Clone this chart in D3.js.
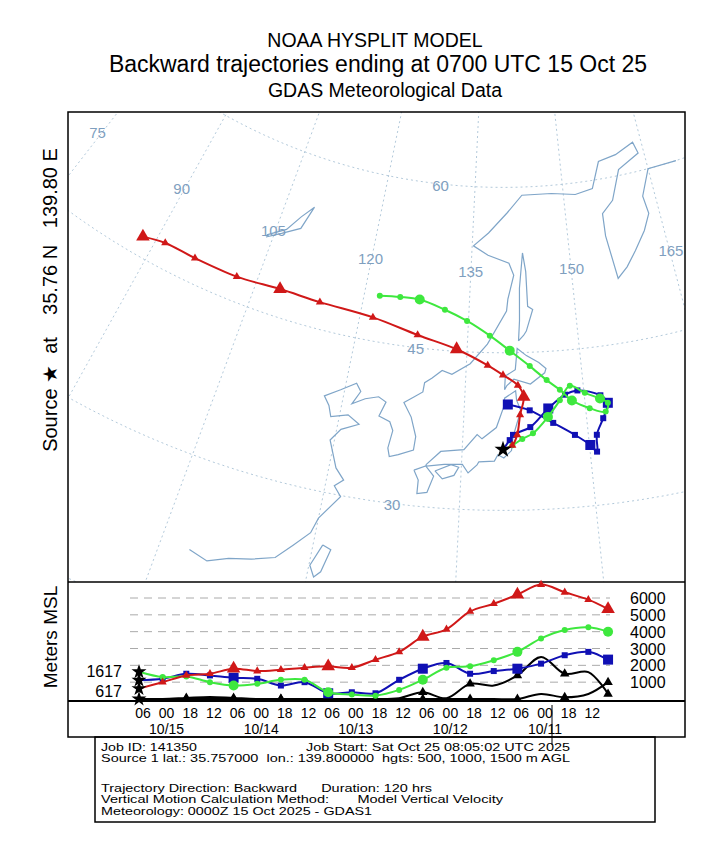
<!DOCTYPE html><html><head><script src="https://cdn.jsdelivr.net/npm/d3@7"></script>
<style>body{margin:0;background:#fff}text{font-family:"Liberation Sans",Arial,sans-serif}</style></head><body>
<svg id="c" width="720" height="853"></svg>
<script>
// trajectory paths on the map (lon, lat), newest point first
var redPath = [[139.8,35.8],[140.9,36.2],[141.5,37.2],[141.9,39.1],[142.4,40.8],[141.7,41.9],[139.8,42.9],[137.8,43.8],[133.6,45.2],[128.2,46.2],[121.8,47.2],[114.2,47.5],[108.4,47.6],[102.2,47.3],[95.9,47.3],[91.3,47.3],[88.2,46.8]];
var greenPath = [[139.8,35.8],[140.9,36.2],[142.1,36.8],[143.4,37.3],[145.3,38.8],[146.9,40.3],[148.3,41.6],[150.1,40.8],[151.9,40.1],[152.8,39.6],[152.4,38.8],[150.5,39.3],[148.4,40.2],[147.0,41.3],[145.4,42.3],[143.3,43.7],[140.7,45.2],[138.0,46.6],[134.8,47.9],[131.6,48.8],[127.9,49.5],[125.1,49.5],[122.2,49.3]];
var bluePath = [[139.8,35.8],[140.6,36.7],[141.0,37.2],[143.1,37.9],[145.4,39.6],[147.6,40.8],[149.2,41.1],[152.0,40.4],[152.8,39.6],[152.0,38.2],[151.0,36.7],[150.8,35.1],[150.1,35.8],[148.4,36.9],[145.9,38.2],[143.1,39.5],[140.4,40.1]];
// heights (m MSL) every 6 hours back from 0700 UTC 15 Oct
var hours = [0,6,12,18,24,30,36,42,48,54,60,66,72,78,84,90,96,102,108,114,119];
var redHgt = [617,1000,1400,1500,1800,1660,1740,1860,1940,1860,2340,2800,3700,4140,5200,5660,6200,6800,6340,5900,5340];
var blueHgt = [1117,1200,1500,1400,1260,1200,800,1000,340,400,340,1140,1800,2140,1500,1660,1800,2100,2600,2800,2340];
var greenHgt = [1617,1300,1340,1000,800,900,1140,1140,400,260,200,540,1140,1860,1940,2300,2800,3600,4100,4260,4000];
var gnd1 = [0,0,60,120,60,0,0,0,0,0,0,50,400,50,900,800,1400,2500,1500,1600,300];
var gnd2 = [0,0,0,0,0,0,0,0,0,0,0,0,0,0,0,0,0,300,100,300,1000];
var tickHours = [1,7,13,19,25,31,37,43,49,55,61,67,73,79,85,91,97,103,109,115];
var tickLabels = ["06","00","18","12","06","00","18","12","06","00","18","12","06","00","18","12","06","00","18","12"];
var dateHours = [7,31,55,79,103];
var dateLabels = ["10/15","10/14","10/13","10/12","10/11"];
var yTicks = [1000,2000,3000,4000,5000,6000];
var lonLabels = [75,90,105,120,135,150,165];
var latLabels = [30,45,60];
// rough coastlines
var coasts = [
 [[108,21.5],[110,21],[112,21.8],[114.2,22.3],[116.5,23],[118,24.5],[119.5,26],[120,27.5],[121.9,29.9],[121,30.8],[121.9,31.5],[120.8,32.5],[119.5,35],[120.5,36.2],[122.5,37],[121,37.7],[119,37.2],[118.5,38.2],[117.7,39],[119.5,39.9],[121.3,40.8],[122,40.1],[121.2,38.8],[122.7,39.5],[124.3,39.9],[125.3,39.5],[124.7,38.1],[126.1,37.7],[126.6,36.9],[126.3,35.2],[126.6,34.4],[127.6,34.7],[129.3,35.3],[129.4,36.6],[128.6,38.4],[127.5,39.7],[128.6,40.3],[129.7,40.9],[129.8,41.8],[130.7,42.3],[131.9,43.1],[133.2,42.8],[135.5,43.9],[137.7,45.8],[140.3,48.9],[140.5,50.0],[141.4,52.2],[140.7,53.3],[137.5,54],[135.2,54.8],[137.5,56],[140.5,57.8],[143,59.3],[148,59.3],[152,59],[155,59.3],[156.8,61.5],[160,61.8],[163.5,62.5],[164,61.5],[160,60.5],[158,58],[156,57],[155.9,55],[156.7,51],[158.3,51.9],[160.0,53.2],[162,54.8],[163.3,56.2],[163,57.8],[165,60],[170,60]],
 [[130.9,34.0],[132.5,35.4],[135.2,35.7],[136.7,37.2],[137.3,36.8],[139.0,37.9],[139.9,39.9],[140.0,40.7],[141.4,41.4],[141.5,40.5],[142.0,39.5],[141.5,38.3],[141.0,37.0],[140.8,35.7],[139.9,35.0],[139.2,35.3],[138.8,34.7],[137.0,34.6],[136.8,34.3],[135.8,33.5],[135.1,34.3],[133.0,34.2],[131.0,33.9],[130.9,34.0]],
 [[129.6,33.4],[130.9,33.9],[131.9,33.0],[131.3,31.4],[130.2,31.2],[130.2,32.5],[129.6,33.4]],
 [[132.0,33.5],[133.8,34.2],[134.7,34.0],[134.2,33.2],[132.9,32.8],[132.0,33.5]],
 [[140.0,41.5],[140.1,42.8],[141.4,43.4],[141.7,45.4],[142.9,44.7],[144.5,44.0],[145.4,43.4],[145.2,43.0],[143.3,42.0],[141.2,42.5],[140.3,41.9],[140.0,41.5]],
 [[141.9,46.1],[142.1,48.0],[142.2,51.0],[142.8,54.2],[143.2,52.5],[143.3,49.3],[144.0,49.0],[143.0,47.0],[142.6,46.6],[141.9,46.1]],
 [[121,25.1],[121.9,24.8],[121.3,22.6],[120.7,22],[120.1,23],[121,25.1]],
 [[104,51.7],[106,52.5],[108.5,53.5],[109.5,55.7],[108,54.5],[106.5,53],[104,51.9]]
];

var svg = d3.select("#c");
var RED = "#d01818", GREEN = "#3ee83e", BLUE = "#1010b4", MAPC = "#7fa5c8";

svg.append("text").attr("x", 375).attr("y", 47).attr("text-anchor", "middle").attr("font-size", 19.5).text("NOAA HYSPLIT MODEL");
svg.append("text").attr("x", 378).attr("y", 72).attr("text-anchor", "middle").attr("font-size", 23).text("Backward trajectories ending at 0700 UTC 15 Oct 25");
svg.append("text").attr("x", 385).attr("y", 97).attr("text-anchor", "middle").attr("font-size", 19.5).text("GDAS Meteorological Data");

// map
var proj = d3.geoConicConformal().parallels([35.76, 35.76]).rotate([-139.8, 0]).center([0, 35.76]).scale(600).translate([503, 450]);
var path = d3.geoPath(proj);
svg.append("clipPath").attr("id", "mc").append("rect").attr("x", 68).attr("y", 112).attr("width", 617).attr("height", 470);
var map = svg.append("g").attr("clip-path", "url(#mc)");
map.append("path").datum(d3.geoGraticule().step([15, 15]).extent([[-180, 0], [180, 89]])())
    .attr("d", path).attr("fill", "none").attr("stroke", "#9fbbd0").attr("stroke-width", 0.8).attr("stroke-dasharray", "2,3");
coasts.forEach(function(c) {
    map.append("path").datum({type: "LineString", coordinates: c}).attr("d", path)
        .attr("fill", "none").attr("stroke", MAPC).attr("stroke-width", 1.2);
});
lonLabels.forEach(function(l) {
    var p = proj([l, 52]);
    map.append("text").attr("x", p[0]).attr("y", p[1]).attr("font-size", 15).attr("fill", "#7f9fbf").attr("text-anchor", "middle").text(l);
});
latLabels.forEach(function(l) {
    var p = proj([125, l]);
    map.append("text").attr("x", p[0] + 15).attr("y", p[1] + 10).attr("font-size", 15).attr("fill", "#7f9fbf").text(l);
});

var mapLine = d3.line().curve(d3.curveCatmullRom).x(function(d) { return proj(d)[0]; }).y(function(d) { return proj(d)[1]; });
function marker(g, kind, x, y, s, col) {
    if (kind == "tri") g.append("path").attr("d", d3.symbol(d3.symbolTriangle, s * s * 0.8)()).attr("transform", "translate(" + x + "," + y + ")").attr("fill", col);
    else if (kind == "sq") g.append("rect").attr("x", x - s / 2).attr("y", y - s / 2).attr("width", s).attr("height", s).attr("fill", col);
    else g.append("circle").attr("cx", x).attr("cy", y).attr("r", s / 2).attr("fill", col);
}
var series = [
    {pts: bluePath, hgt: blueHgt, col: BLUE, kind: "sq"},
    {pts: greenPath, hgt: greenHgt, col: GREEN, kind: "ci"},
    {pts: redPath, hgt: redHgt, col: RED, kind: "tri"}
];
series.forEach(function(s) {
    map.append("path").datum(s.pts).attr("d", mapLine).attr("fill", "none").attr("stroke", s.col).attr("stroke-width", 2);
    s.pts.forEach(function(p, i) {
        if (i == 0) return;
        var q = proj(p);
        marker(map, s.kind, q[0], q[1], i % 4 == 0 ? 10 : 6, s.col);
    });
});
var sp = proj(redPath[0]);
map.append("path").attr("d", d3.symbol(d3.symbolStar, 90)()).attr("transform", "translate(" + sp[0] + "," + sp[1] + ")").attr("fill", "#000");

svg.append("rect").attr("x", 68).attr("y", 112).attr("width", 617).attr("height", 625).attr("fill", "none").attr("stroke", "#000").attr("stroke-width", 1.5);
svg.append("line").attr("x1", 68).attr("x2", 685).attr("y1", 582).attr("y2", 582).attr("stroke", "#000").attr("stroke-width", 1.5);
svg.append("text").attr("transform", "translate(57,300) rotate(-90)").attr("text-anchor", "middle").attr("font-size", 20)
    .style("white-space", "pre").text("Source \u2605  at    35.76 N   139.80 E");

// vertical profile
var x = d3.scaleLinear().domain([0, 120]).range([139, 612]);
var y = d3.scaleLinear().domain([0, 6000]).range([699, 598]);
yTicks.forEach(function(v) {
    svg.append("line").attr("x1", 130).attr("x2", 610).attr("y1", y(v)).attr("y2", y(v)).attr("stroke", "#aaa").attr("stroke-dasharray", "8,6");
    svg.append("text").attr("x", 630).attr("y", y(v) + 6).attr("font-size", 16).text(v);
});
var vLine = d3.line().curve(d3.curveCatmullRom).x(function(d, i) { return x(hours[i]); }).y(function(d) { return y(d); });
[gnd1, gnd2].forEach(function(g) {
    svg.append("path").datum(g).attr("d", vLine).attr("fill", "none").attr("stroke", "#000").attr("stroke-width", 2);
    g.forEach(function(v, i) { if (i > 0 && i % 2 == 0) marker(svg, "tri", x(hours[i]), y(v), 7, "#000"); });
});
series.forEach(function(s) {
    svg.append("path").datum(s.hgt).attr("d", vLine).attr("fill", "none").attr("stroke", s.col).attr("stroke-width", 2);
    s.hgt.forEach(function(v, i) {
        if (i == 0) return;
        marker(svg, s.kind, x(hours[i]), y(v), i % 4 == 0 ? 10 : 6, s.col);
    });
});
[redHgt[0], blueHgt[0], greenHgt[0], 0].forEach(function(v) {
    svg.append("path").attr("d", d3.symbol(d3.symbolStar, 70)()).attr("transform", "translate(" + x(0) + "," + y(v) + ")").attr("fill", "#000");
});
svg.append("text").attr("x", 122).attr("y", y(greenHgt[0]) + 5).attr("text-anchor", "end").attr("font-size", 16).text(greenHgt[0]);
svg.append("text").attr("x", 122).attr("y", y(redHgt[0]) + 8).attr("text-anchor", "end").attr("font-size", 16).text(redHgt[0]);
svg.append("text").attr("transform", "translate(57,637) rotate(-90)").attr("text-anchor", "middle").attr("font-size", 19).text("Meters MSL");
svg.append("line").attr("x1", 68).attr("x2", 685).attr("y1", 701).attr("y2", 701).attr("stroke", "#000").attr("stroke-width", 2);
tickHours.forEach(function(h, i) {
    svg.append("text").attr("x", x(h)).attr("y", 718).attr("text-anchor", "middle").attr("font-size", 14).text(tickLabels[i]);
});
dateHours.forEach(function(h, i) {
    svg.append("text").attr("x", x(h)).attr("y", 734).attr("text-anchor", "middle").attr("font-size", 14).text(dateLabels[i]);
});
svg.append("line").attr("x1", 552).attr("x2", 552).attr("y1", 705).attr("y2", 745).attr("stroke", "#000");

// info box
svg.append("rect").attr("x", 95).attr("y", 737).attr("width", 560).attr("height", 85).attr("fill", "none").attr("stroke", "#000").attr("stroke-width", 1.5);
var info = [
    [101, 751, "Job ID: 141350", 96], [306, 751, "Job Start: Sat Oct 25 08:05:02 UTC 2025", 264],
    [101, 762, "Source 1 lat.: 35.757000  lon.: 139.800000  hgts: 500, 1000, 1500 m AGL", 469],
    [101, 792, "Trajectory Direction: Backward      Duration: 120 hrs", 331],
    [101, 803, "Vertical Motion Calculation Method:       Model Vertical Velocity", 402],
    [101, 815, "Meteorology: 0000Z 15 Oct 2025 - GDAS1", 271]
];
info.forEach(function(t) {
    svg.append("text").attr("x", t[0]).attr("y", t[1]).attr("font-size", 11.5).style("white-space", "pre")
        .attr("textLength", t[3]).attr("lengthAdjust", "spacingAndGlyphs").text(t[2]);
});
</script></body></html>
